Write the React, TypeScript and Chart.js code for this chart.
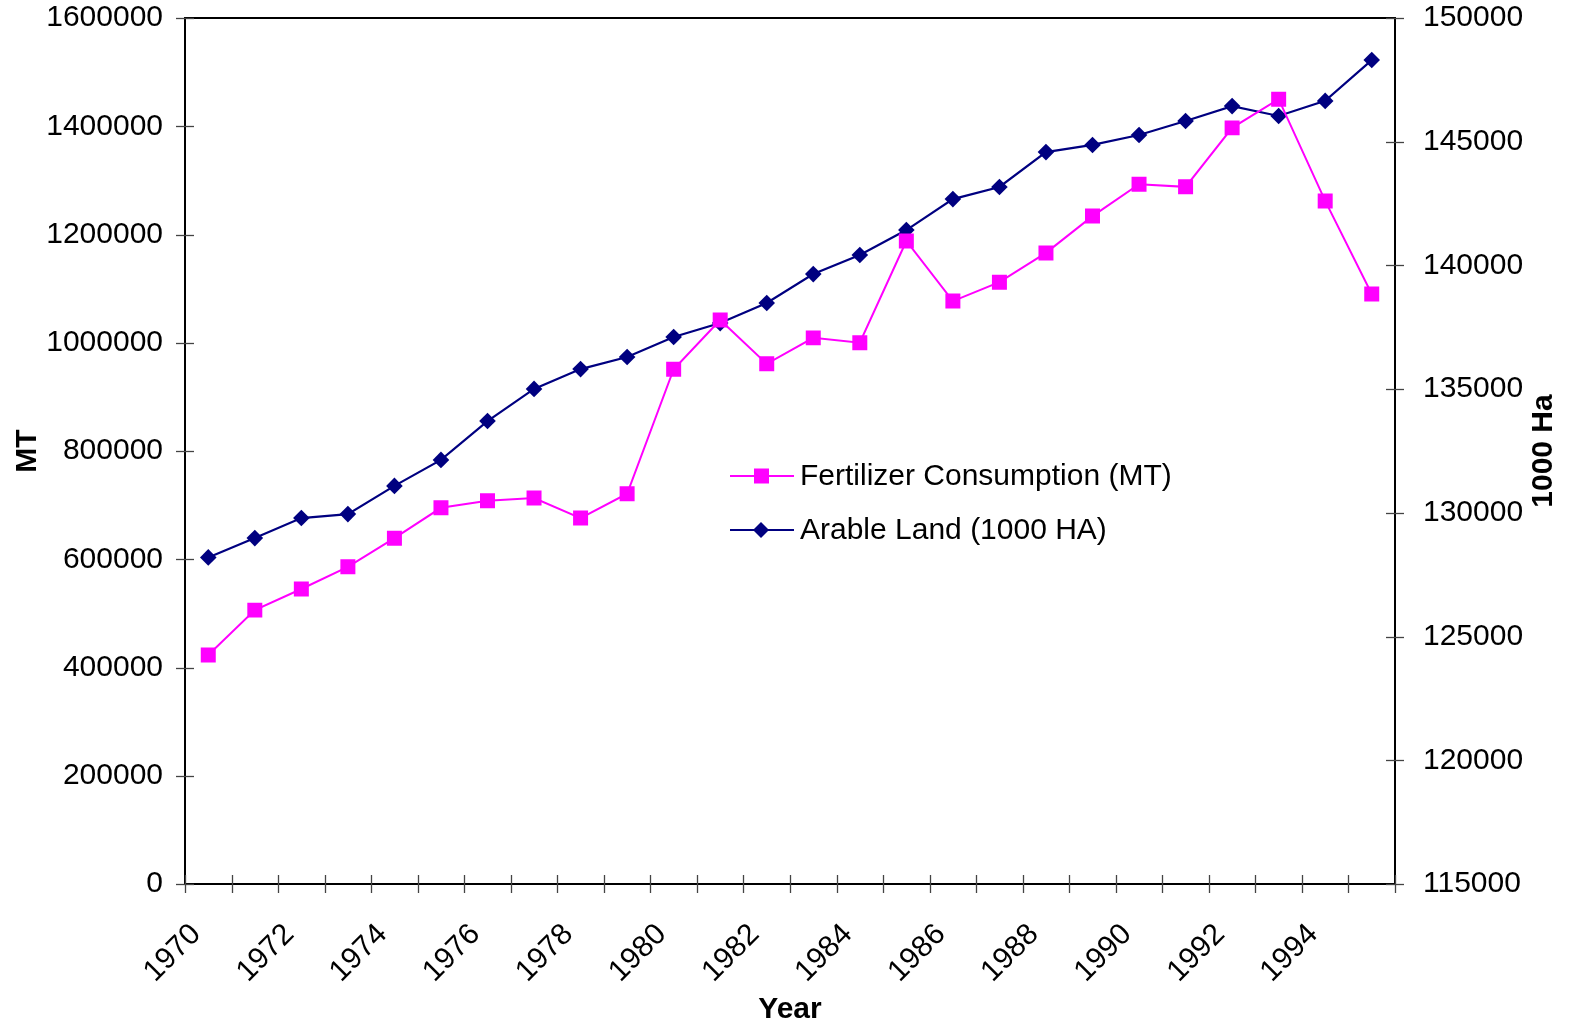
import React, { useEffect, useRef } from 'react';
import { Chart, registerables } from 'chart.js';

Chart.register(...registerables);

const years = ['1970','1971','1972','1973','1974','1975','1976','1977','1978','1979','1980','1981','1982','1983','1984','1985','1986','1987','1988','1989','1990','1991','1992','1993','1994','1995'];
const fertilizer = [423000,506000,545000,586000,639000,695000,708000,713000,676000,721000,951000,1042000,961000,1009000,1000000,1188000,1077000,1112000,1166000,1234000,1293000,1288000,1397000,1450000,1262000,1090000];
const arable = [128200,128980,129790,129950,131090,132140,133710,135010,135810,136300,137110,137670,138480,139650,140420,141430,142680,143170,144580,144870,145270,145840,146440,146040,146650,148300];
const seriesNames = ['Fertilizer Consumption (MT)', 'Arable Land (1000 HA)'];
const xTitle = 'Year';
const leftTitle = 'MT';
const rightTitle = '1000 Ha';

const FONT = '"Liberation Sans", Arial, sans-serif';
const MAGENTA = '#FF00FF';
const NAVY = '#000080';

const decor = {
  id: 'decor',
  afterDraw(chart: any) {
    const { ctx, chartArea: a, scales } = chart;
    ctx.save();
    const line = (x1: number, y1: number, x2: number, y2: number) => {
      ctx.beginPath(); ctx.moveTo(x1, y1); ctx.lineTo(x2, y2); ctx.stroke();
    };
    // top border
    ctx.strokeStyle = '#000'; ctx.lineWidth = 2;
    line(a.left - 1, a.top, a.right + 1, a.top);
    // ticks crossing the axes
    ctx.strokeStyle = '#444'; ctx.lineWidth = 1.3;
    scales.y.ticks.forEach((t: any) => {
      const py = Math.round(scales.y.getPixelForValue(t.value)) + 0.5;
      line(a.left - 9, py, a.left + 9, py);
    });
    scales.y1.ticks.forEach((t: any) => {
      const py = Math.round(scales.y1.getPixelForValue(t.value)) + 0.5;
      line(a.right - 9, py, a.right + 9, py);
    });
    const n = years.length;
    for (let i = 0; i <= n; i++) {
      const px = Math.round(a.left + (a.right - a.left) * i / n) + 0.5;
      line(px, a.bottom - 9, px, a.bottom + 9);
    }
    // axis titles
    ctx.fillStyle = '#000';
    ctx.font = `bold 30px ${FONT}`;
    ctx.textAlign = 'center'; ctx.textBaseline = 'middle';
    ctx.fillText(xTitle, (a.left + a.right) / 2, 1010);
    const cy = (a.top + a.bottom) / 2;
    ctx.save(); ctx.translate(28, cy); ctx.rotate(-Math.PI / 2); ctx.fillText(leftTitle, 0, 0); ctx.restore();
    ctx.save(); ctx.translate(1544, cy); ctx.rotate(-Math.PI / 2); ctx.fillText(rightTitle, 0, 0); ctx.restore();
    // legend
    const items = [
      { name: seriesNames[0], color: MAGENTA, shape: 'rect', y: 476 },
      { name: seriesNames[1], color: NAVY, shape: 'diamond', y: 530 },
    ];
    ctx.font = `30px ${FONT}`;
    ctx.textAlign = 'left';
    items.forEach((it) => {
      ctx.strokeStyle = it.color; ctx.lineWidth = 2;
      line(730, it.y, 794, it.y);
      ctx.fillStyle = it.color;
      if (it.shape === 'rect') {
        ctx.fillRect(754, it.y - 7.5, 15, 15);
      } else {
        ctx.beginPath();
        ctx.moveTo(761, it.y - 8); ctx.lineTo(769, it.y); ctx.lineTo(761, it.y + 8); ctx.lineTo(753, it.y);
        ctx.closePath(); ctx.fill();
      }
      ctx.fillStyle = '#000';
      ctx.fillText(it.name, 800, it.y + 1);
    });
    ctx.restore();
  },
};

const noPad = (s: any) => {
  s.paddingTop = 0; s.paddingBottom = 0; s.paddingLeft = 0; s.paddingRight = 0;
};

export default function App() {
  const ref = useRef<HTMLCanvasElement>(null);
  useEffect(() => {
    document.body.style.margin = '0';
    const canvas = ref.current!;
    const chart = new Chart(canvas, {
      type: 'line',
      data: {
        labels: years,
        datasets: [
          {
            label: seriesNames[0],
            data: fertilizer,
            yAxisID: 'y',
            borderColor: MAGENTA,
            backgroundColor: MAGENTA,
            borderWidth: 2,
            pointStyle: 'rect',
            pointRadius: 10.6,
            pointBorderWidth: 0,
            tension: 0,
          },
          {
            label: seriesNames[1],
            data: arable,
            yAxisID: 'y1',
            borderColor: NAVY,
            backgroundColor: NAVY,
            borderWidth: 2.2,
            pointStyle: 'rectRot',
            pointRadius: 8.3,
            pointBorderWidth: 0,
            tension: 0,
          },
        ],
      },
      options: {
        responsive: false,
        animation: false,
        devicePixelRatio: 1,
        layout: { padding: { top: 18, left: 0, right: 0, bottom: 0 } },
        plugins: { legend: { display: false }, tooltip: { enabled: false } },
        scales: {
          x: {
            type: 'category',
            offset: true,
            grid: { display: true, offset: true, drawOnChartArea: false, drawTicks: true, tickLength: 9, tickColor: 'transparent' },
            border: { display: true, color: '#000', width: 2 },
            ticks: {
              autoSkip: false,
              minRotation: 45,
              maxRotation: 45,
              labelOffset: -12,
              padding: 24,
              color: '#000',
              font: { family: FONT, size: 30 },
              callback: (_v: any, i: number) => (i % 2 === 0 ? years[i] : ''),
            },
            afterFit: (s: any) => { s.height = 148; noPad(s); },
          },
          y: {
            position: 'left',
            min: 0,
            max: 1600000,
            grid: { display: true, drawOnChartArea: false, drawTicks: true, tickLength: 9, tickColor: 'transparent' },
            border: { display: true, color: '#000', width: 2 },
            ticks: { stepSize: 200000, padding: 13, color: '#000', font: { family: FONT, size: 30 }, callback: (v: any) => String(v) },
            afterFit: (s: any) => { s.width = 185; noPad(s); },
          },
          y1: {
            position: 'right',
            min: 115000,
            max: 150000,
            grid: { display: true, drawOnChartArea: false, drawTicks: true, tickLength: 9, tickColor: 'transparent' },
            border: { display: true, color: '#000', width: 2 },
            ticks: { stepSize: 5000, padding: 19, color: '#000', font: { family: FONT, size: 30 }, callback: (v: any) => String(v) },
            afterFit: (s: any) => { s.width = 175; noPad(s); },
          },
        },
      },
      plugins: [decor],
    });
    return () => chart.destroy();
  }, []);
  return <canvas ref={ref} width={1570} height={1032} style={{ display: 'block', width: 1570, height: 1032 }} />;
}
